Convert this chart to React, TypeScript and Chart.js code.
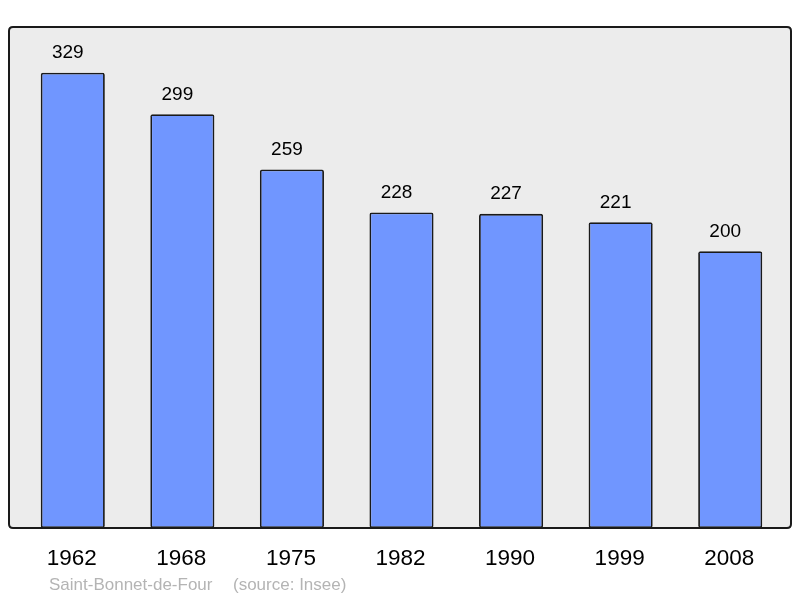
import React, { useEffect, useRef } from "react";
import { Chart, registerables } from "chart.js";

Chart.register(...registerables);

const categories = ["1962", "1968", "1975", "1982", "1990", "1999", "2008"];
const population = [329, 299, 259, 228, 227, 221, 200];
const sourceName = "Saint-Bonnet-de-Four";
const sourceNote = "(source: Insee)";

const FONT = '"Liberation Sans", Arial, sans-serif';

function framePath(ctx: CanvasRenderingContext2D) {
  const x0 = 9, y0 = 27, x1 = 791, y1 = 528, r = 4;
  ctx.beginPath();
  ctx.moveTo(x0 + r, y0);
  ctx.lineTo(x1 - r, y0);
  ctx.quadraticCurveTo(x1, y0, x1, y0 + r);
  ctx.lineTo(x1, y1 - r);
  ctx.quadraticCurveTo(x1, y1, x1 - r, y1);
  ctx.lineTo(x0 + r, y1);
  ctx.quadraticCurveTo(x0, y1, x0, y1 - r);
  ctx.lineTo(x0, y0 + r);
  ctx.quadraticCurveTo(x0, y0, x0 + r, y0);
  ctx.closePath();
}

const framePlugin = {
  id: "frame",
  beforeDraw(chart: any) {
    const ctx = chart.ctx;
    ctx.save();
    framePath(ctx);
    ctx.fillStyle = "#ececec";
    ctx.fill();
    ctx.restore();
  },
  afterDatasetsDraw(chart: any) {
    const ctx = chart.ctx;
    const meta = chart.getDatasetMeta(0);
    ctx.save();
    framePath(ctx);
    ctx.lineWidth = 2;
    ctx.strokeStyle = "#1a1a1a";
    ctx.stroke();

    ctx.fillStyle = "#000";
    ctx.textAlign = "center";
    ctx.textBaseline = "alphabetic";
    ctx.font = `19px ${FONT}`;
    meta.data.forEach((bar: any, i: number) => {
      ctx.fillText(String(population[i]), bar.x - 5, bar.y - 14.5);
    });

    ctx.font = `22.5px ${FONT}`;
    meta.data.forEach((bar: any, i: number) => {
      ctx.fillText(categories[i], bar.x - 1, 565);
    });

    ctx.textAlign = "left";
    ctx.font = `17px ${FONT}`;
    ctx.fillStyle = "#b4b4b4";
    ctx.fillText(sourceName, 49, 590);
    ctx.fillText(sourceNote, 233, 590);
    ctx.restore();
  },
};

export default function App() {
  const ref = useRef<HTMLCanvasElement | null>(null);

  useEffect(() => {
    if (!ref.current) return;
    const chart = new Chart(ref.current, {
      type: "bar",
      data: {
        labels: categories,
        datasets: [
          {
            data: population,
            backgroundColor: "#7096ff",
            borderColor: "#1a1a1a",
            borderWidth: 1.8,
            borderRadius: 2,
            borderSkipped: false,
            barPercentage: 0.585,
            categoryPercentage: 1,
          },
        ],
      },
      plugins: [framePlugin],
      options: {
        responsive: false,
        animation: false,
        devicePixelRatio: 1,
        layout: { padding: { left: 18, right: 15, top: 27, bottom: 70 } },
        plugins: { legend: { display: false }, tooltip: { enabled: false }, title: { display: false } },
        scales: {
          x: { display: false, offset: true },
          y: { display: false, min: 0, max: 362 },
        },
      },
    });
    return () => chart.destroy();
  }, []);

  return (
    <div style={{ position: "absolute", left: 0, top: 0, width: 800, height: 598, background: "#fff" }}>
      <canvas ref={ref} width={800} height={598} style={{ display: "block", width: 800, height: 598 }} />
    </div>
  );
}
